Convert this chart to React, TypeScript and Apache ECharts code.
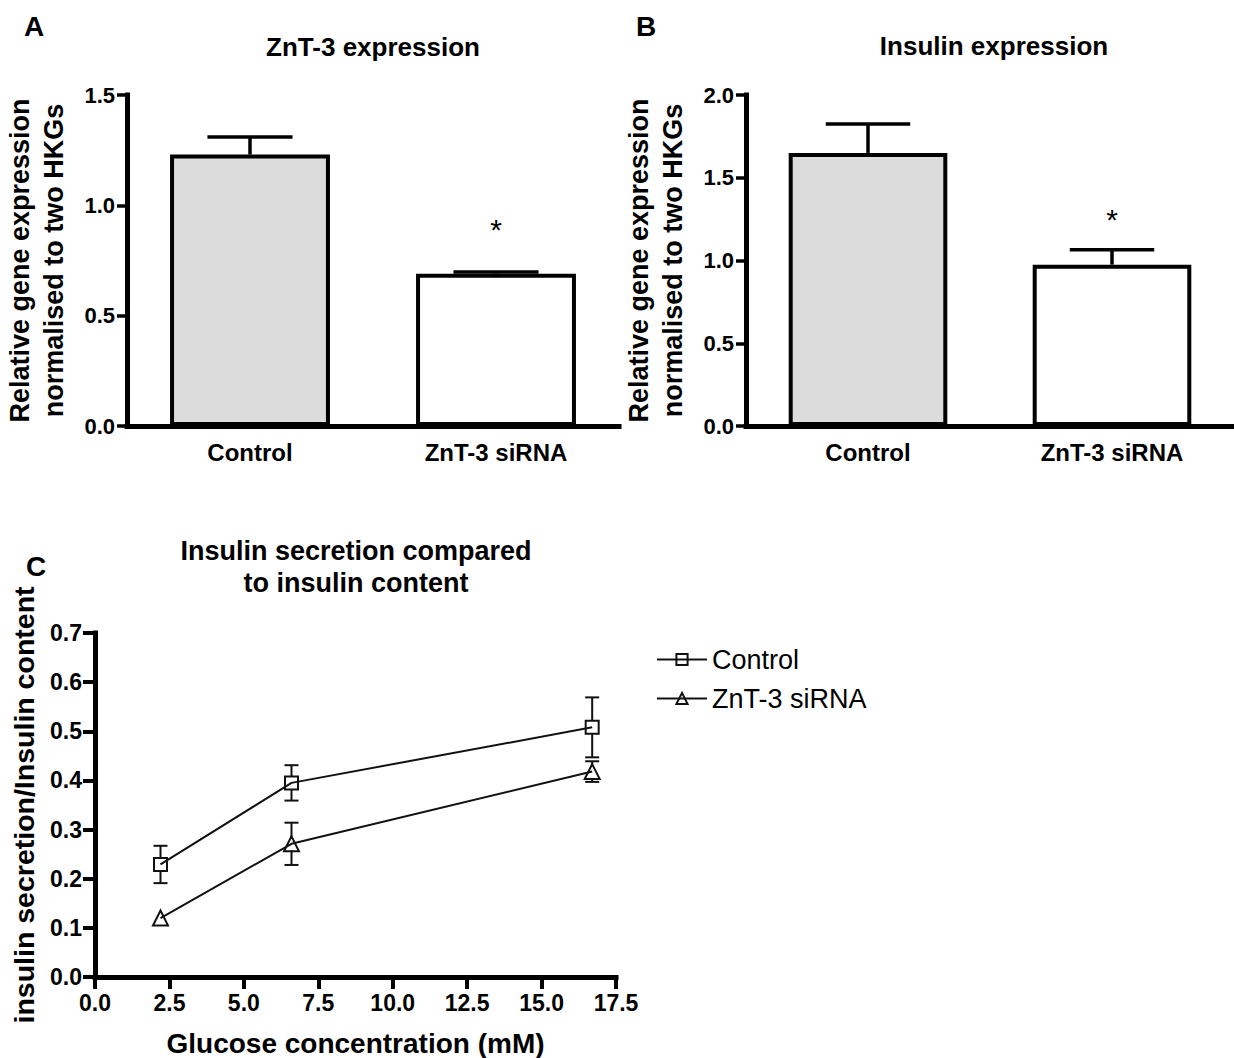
import React, { useEffect, useRef } from 'react';
import * as echarts from 'echarts';

// ---------- data ----------
const barCategories = ['Control', 'ZnT-3 siRNA'];
const barFill = ['#dcdcdc', '#ffffff'];

const znt3Values = [1.23, 0.69];
const znt3Errors = [0.08, 0.008];
const znt3StarIndex = [1];
const znt3StarLevel = [0.92];

const insulinValues = [1.65, 0.975];
const insulinErrors = [0.175, 0.09];
const insulinStarIndex = [1];
const insulinStarLevel = [1.29];

const glucose = [2.2, 6.6, 16.7];
const controlRatio = [0.229, 0.395, 0.508];
const controlSem = [0.038, 0.036, 0.061];
const sirnaRatio = [0.12, 0.271, 0.418];
const sirnaSem = [0.004, 0.043, 0.021];

const seriesNames = ['Control', 'ZnT-3 siRNA'];

// ---------- styling ----------
const FONT = 'Liberation Sans, Arial, Helvetica, sans-serif';
const INK = '#000';

const axisLine = { lineStyle: { color: INK, width: 5, cap: 'square' } };
const axisTick = { length: 10, lineStyle: { color: INK, width: 3.5 } };

function barSeries(values: number[], idx: number) {
  return {
    type: 'bar',
    xAxisIndex: idx,
    yAxisIndex: idx,
    barWidth: '65%',
    z: 2,
    data: values.map((v, i) => ({
      value: v,
      itemStyle: { color: barFill[i], borderColor: INK, borderWidth: 4 },
    })),
  };
}

function barErrorSeries(values: number[], errors: number[], idx: number) {
  return {
    type: 'custom',
    xAxisIndex: idx,
    yAxisIndex: idx,
    z: 5,
    silent: true,
    data: values.map((v, i) => [i, v, errors[i]]),
    renderItem: (_p: any, api: any) => {
      const i = api.value(0);
      const v = api.value(1);
      const e = api.value(2);
      const base = api.coord([i, v]);
      const top = api.coord([i, v + e]);
      const band = api.size([1, 0])[0];
      const half = band * 0.173;
      const st = { stroke: INK, lineWidth: 3.5 };
      return {
        type: 'group',
        children: [
          { type: 'line', shape: { x1: base[0], y1: base[1], x2: top[0], y2: top[1] }, style: st },
          { type: 'line', shape: { x1: top[0] - half, y1: top[1], x2: top[0] + half, y2: top[1] }, style: st },
        ],
      };
    },
  };
}

function starSeries(indices: number[], levels: number[], idx: number) {
  return {
    type: 'custom',
    xAxisIndex: idx,
    yAxisIndex: idx,
    z: 6,
    silent: true,
    data: indices.map((k, i) => [k, levels[i]]),
    renderItem: (_p: any, api: any) => {
      const c = api.coord([api.value(0), api.value(1)]);
      return {
        type: 'text',
        x: c[0],
        y: c[1] + 7,
        style: {
          text: '*',
          fill: INK,
          font: `normal 30px ${FONT}`,
          align: 'center',
          verticalAlign: 'middle',
          textAlign: 'center',
          textVerticalAlign: 'middle',
        },
      };
    },
  };
}

function pointErrorSeries(xs: number[], ys: number[], errs: number[]) {
  return {
    type: 'custom',
    xAxisIndex: 2,
    yAxisIndex: 2,
    z: 3,
    silent: true,
    data: xs.map((x, i) => [x, ys[i], errs[i]]),
    renderItem: (_p: any, api: any) => {
      const x = api.value(0);
      const y = api.value(1);
      const e = api.value(2);
      const c = api.coord([x, y]);
      const t = api.coord([x, y + e]);
      const b = api.coord([x, y - e]);
      const hm = 6.5;
      const cap = 7;
      const st = { stroke: '#111', lineWidth: 2 };
      const children: any[] = [];
      if (c[1] - t[1] > hm) {
        children.push({ type: 'line', shape: { x1: c[0], y1: t[1], x2: c[0], y2: c[1] - hm }, style: st });
        children.push({ type: 'line', shape: { x1: c[0] - cap, y1: t[1], x2: c[0] + cap, y2: t[1] }, style: st });
      }
      if (b[1] - c[1] > hm) {
        children.push({ type: 'line', shape: { x1: c[0], y1: c[1] + hm, x2: c[0], y2: b[1] }, style: st });
        children.push({ type: 'line', shape: { x1: c[0] - cap, y1: b[1], x2: c[0] + cap, y2: b[1] }, style: st });
      }
      return { type: 'group', children };
    },
  };
}

function lineSeries(name: string, ys: number[], symbol: string, size: number) {
  return {
    type: 'line',
    name,
    xAxisIndex: 2,
    yAxisIndex: 2,
    z: 4,
    symbol,
    symbolSize: size,
    data: glucose.map((g, i) => [g, ys[i]]),
    lineStyle: { color: '#111', width: 2 },
    itemStyle: { color: 'rgba(255,255,255,0)', borderColor: '#111', borderWidth: 2 },
  };
}

function textEl(text: string, x: number, y: number, size: number, weight = 'bold', lineHeight?: number) {
  return {
    type: 'text',
    x,
    y,
    style: {
      text,
      fill: INK,
      font: `${weight} ${size}px ${FONT}`,
      lineHeight: lineHeight || size,
      align: 'center',
      verticalAlign: 'middle',
      textAlign: 'center',
      textVerticalAlign: 'middle',
    },
  };
}

const catLabel = { color: INK, fontFamily: FONT, fontWeight: 'bold', fontSize: 24, margin: 14 };
const valLabel = { color: INK, fontFamily: FONT, fontWeight: 'bold', fontSize: 22, margin: 12 };
const yNameStyle = { color: INK, fontFamily: FONT, fontWeight: 'bold', fontSize: 27, lineHeight: 34 };

export default function App() {
  const ref = useRef<HTMLDivElement>(null);

  useEffect(() => {
    if (!ref.current) return;
    const chart = echarts.init(ref.current, undefined, { renderer: 'svg' });
    const option: any = {
      animation: false,
      backgroundColor: '#fff',
      grid: [
        { left: 127, top: 95, width: 492, height: 331 },
        { left: 746, top: 95, width: 496, height: 331 },
        { left: 95, top: 633, width: 521, height: 344 },
      ],
      xAxis: [
        {
          gridIndex: 0,
          type: 'category',
          data: barCategories,
          axisLine,
          axisTick: { ...axisTick, alignWithLabel: true },
          axisLabel: catLabel,
          splitLine: { show: false },
        },
        {
          gridIndex: 1,
          type: 'category',
          data: barCategories,
          axisLine,
          axisTick: { ...axisTick, alignWithLabel: true },
          axisLabel: catLabel,
          splitLine: { show: false },
        },
        {
          gridIndex: 2,
          type: 'value',
          min: 0,
          max: 17.5,
          interval: 2.5,
          axisLine,
          axisTick: { length: 12, lineStyle: { color: INK, width: 4 } },
          axisLabel: { ...valLabel, fontSize: 23, margin: 14, formatter: (v: number) => v.toFixed(1) },
          splitLine: { show: false },
          name: 'Glucose concentration (mM)',
          nameLocation: 'middle',
          nameGap: 52,
          nameTextStyle: { color: INK, fontFamily: FONT, fontWeight: 'bold', fontSize: 28 },
        },
      ],
      yAxis: [
        {
          gridIndex: 0,
          type: 'value',
          min: 0,
          max: 1.5,
          interval: 0.5,
          axisLine: { ...axisLine, show: true },
          axisTick: { ...axisTick, show: true },
          axisLabel: { ...valLabel, formatter: (v: number) => v.toFixed(1) },
          splitLine: { show: false },
          name: 'Relative gene expression\nnormalised to two HKGs',
          nameLocation: 'middle',
          nameRotate: 90,
          nameGap: 56,
          nameTextStyle: yNameStyle,
        },
        {
          gridIndex: 1,
          type: 'value',
          min: 0,
          max: 2.0,
          interval: 0.5,
          axisLine: { ...axisLine, show: true },
          axisTick: { ...axisTick, show: true },
          axisLabel: { ...valLabel, formatter: (v: number) => v.toFixed(1) },
          splitLine: { show: false },
          name: 'Relative gene expression\nnormalised to two HKGs',
          nameLocation: 'middle',
          nameRotate: 90,
          nameGap: 56,
          nameTextStyle: yNameStyle,
        },
        {
          gridIndex: 2,
          type: 'value',
          min: 0,
          max: 0.7,
          interval: 0.1,
          axisLine: { ...axisLine, show: true },
          axisTick: { length: 12, show: true, lineStyle: { color: INK, width: 4 } },
          axisLabel: { ...valLabel, fontSize: 23, margin: 13, formatter: (v: number) => v.toFixed(1) },
          splitLine: { show: false },
          name: 'insulin secretion/Insulin content',
          nameLocation: 'middle',
          nameRotate: 90,
          nameGap: 57,
          nameTextStyle: { ...yNameStyle, fontSize: 28.5, lineHeight: 28 },
        },
      ],
      legend: {
        data: seriesNames,
        orient: 'vertical',
        left: 651,
        top: 641,
        itemWidth: 50,
        itemHeight: 14,
        itemGap: 12,
        selectedMode: false,
        textStyle: { color: INK, fontFamily: FONT, fontSize: 27, lineHeight: 27 },
      },
      graphic: [
        textEl('A', 34, 26, 28),
        textEl('B', 646, 26, 28),
        textEl('C', 36, 566, 28),
        textEl('ZnT-3 expression', 373, 47, 26),
        textEl('Insulin expression', 994, 46, 26),
        textEl('Insulin secretion compared\nto insulin content', 356, 567, 27, 'bold', 32),
      ],
      series: [
        barSeries(znt3Values, 0),
        barErrorSeries(znt3Values, znt3Errors, 0),
        starSeries(znt3StarIndex, znt3StarLevel, 0),
        barSeries(insulinValues, 1),
        barErrorSeries(insulinValues, insulinErrors, 1),
        starSeries(insulinStarIndex, insulinStarLevel, 1),
        pointErrorSeries(glucose, controlRatio, controlSem),
        pointErrorSeries(glucose, sirnaRatio, sirnaSem),
        lineSeries(seriesNames[0], controlRatio, 'rect', 13),
        lineSeries(seriesNames[1], sirnaRatio, 'triangle', 15),
      ],
    };
    chart.setOption(option);
    return () => chart.dispose();
  }, []);

  return (
    <div
      ref={ref}
      style={{ position: 'absolute', left: 0, top: 0, width: 1234, height: 1058, background: '#fff' }}
    />
  );
}
